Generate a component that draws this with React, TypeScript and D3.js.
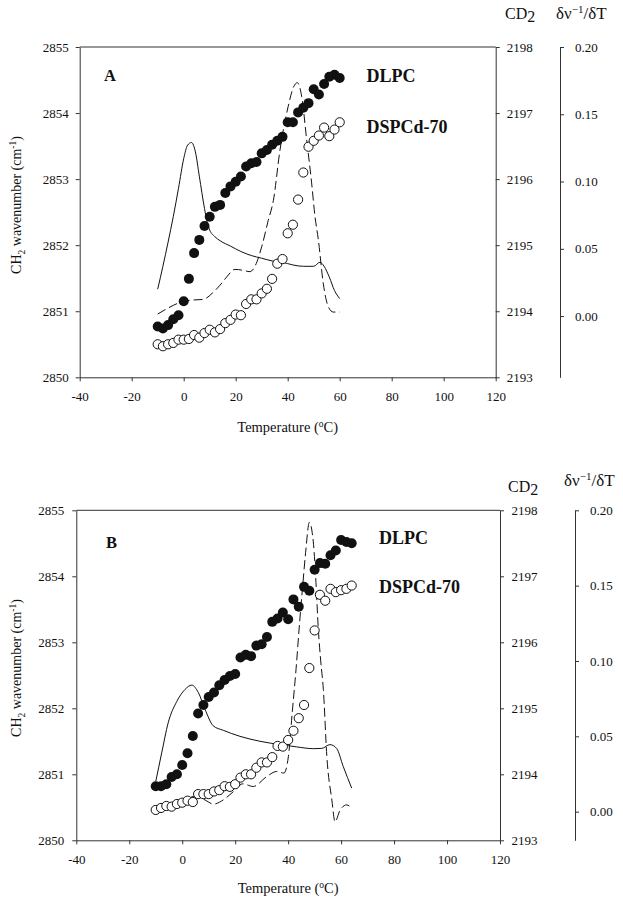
import React, { useEffect, useRef } from "react";
import * as d3 from "d3";

// ---------- data ----------
const xTicks = [-40, -20, 0, 20, 40, 60, 80, 100, 120];
const ch2Ticks = [2850, 2851, 2852, 2853, 2854, 2855];
const cd2Ticks = [2193, 2194, 2195, 2196, 2197, 2198];
const derivTicks = [0, 0.05, 0.1, 0.15, 0.2];

const tempA = [-10, -8, -6, -4, -2, 0, 2, 4, 6, 8, 10, 12, 14, 16, 18, 20, 22, 24, 26, 28, 30, 32, 34, 36, 38, 40, 42, 44, 46, 48, 50, 52, 54, 56, 58, 60];
const dlpcA = [2850.77, 2850.74, 2850.79, 2850.88, 2850.94, 2851.15, 2851.49, 2851.88, 2852.08, 2852.29, 2852.43, 2852.58, 2852.61, 2852.79, 2852.89, 2852.96, 2853.04, 2853.19, 2853.24, 2853.26, 2853.39, 2853.44, 2853.52, 2853.58, 2853.64, 2853.86, 2853.86, 2854.01, 2854.08, 2854.15, 2854.36, 2854.28, 2854.44, 2854.55, 2854.58, 2854.53];
const dspcA = [2193.5, 2193.47, 2193.5, 2193.52, 2193.57, 2193.57, 2193.58, 2193.64, 2193.6, 2193.67, 2193.72, 2193.68, 2193.73, 2193.82, 2193.87, 2193.95, 2193.94, 2194.11, 2194.18, 2194.18, 2194.27, 2194.34, 2194.49, 2194.72, 2194.79, 2195.18, 2195.31, 2195.69, 2196.1, 2196.49, 2196.58, 2196.66, 2196.78, 2196.65, 2196.75, 2196.86];

const tempB = [-10, -8, -6, -4, -2, 0, 2, 4, 6, 8, 10, 12, 14, 16, 18, 20, 22, 24, 26, 28, 30, 32, 34, 36, 38, 40, 42, 44, 46, 48, 50, 52, 54, 56, 58, 60, 62, 64];
const dlpcB = [2850.82, 2850.82, 2850.85, 2850.96, 2851.0, 2851.14, 2851.32, 2851.58, 2851.92, 2852.05, 2852.17, 2852.24, 2852.35, 2852.43, 2852.49, 2852.52, 2852.77, 2852.81, 2852.79, 2852.95, 2852.97, 2853.08, 2853.31, 2853.36, 2853.45, 2853.35, 2853.65, 2853.54, 2853.84, 2853.78, 2854.1, 2854.2, 2854.19, 2854.32, 2854.39, 2854.55, 2854.52, 2854.5];
const dspcB = [2193.46, 2193.49, 2193.52, 2193.51, 2193.55, 2193.57, 2193.6, 2193.58, 2193.7, 2193.7, 2193.7, 2193.74, 2193.76, 2193.82, 2193.81, 2193.85, 2193.95, 2194.0, 2194.0, 2194.1, 2194.18, 2194.18, 2194.26, 2194.43, 2194.42, 2194.52, 2194.66, 2194.85, 2195.05, 2195.61, 2196.18, 2196.72, 2196.63, 2196.81, 2196.76, 2196.79, 2196.81, 2196.86];

const dlpcDerivT_A = [-10, -8, -6, -4, -2, 0, 1.5, 3, 4.5, 6, 8, 9, 10, 12, 14, 18, 22, 26, 30, 34, 38, 42, 46, 50, 52.4, 54, 56, 58, 60];
const dlpcDerivV_A = [0.02, 0.037, 0.055, 0.074, 0.095, 0.117, 0.127, 0.129, 0.122, 0.104, 0.08, 0.07, 0.064, 0.059, 0.056, 0.052, 0.048, 0.045, 0.043, 0.041, 0.04, 0.038, 0.037, 0.037, 0.04, 0.037, 0.029, 0.019, 0.013];
const dspcDerivT_A = [-10, -6, -4, 0, 4, 7.5, 11, 14, 16.5, 19.7, 22.9, 25.5, 27.4, 30, 32.5, 34.5, 37, 40.2, 42.2, 43.7, 45.4, 47.3, 49.2, 50.5, 51.8, 53.7, 55.6, 57.5, 60];
const dspcDerivV_A = [0.0015, 0.006, 0.008, 0.011, 0.012, 0.0124, 0.017, 0.023, 0.029, 0.0347, 0.034, 0.033, 0.037, 0.0515, 0.071, 0.086, 0.123, 0.156, 0.17, 0.1735, 0.163, 0.131, 0.099, 0.074, 0.0565, 0.024, 0.007, 0.003, 0.003];

const dlpcDerivT_B = [-10, -7.75, -5.3, -2.1, 1, 3.6, 6.1, 8.6, 11.7, 15.5, 21.8, 29.4, 37, 43.2, 49.5, 52.7, 55.8, 58.3, 60.8, 64];
const dlpcDerivV_B = [0.02, 0.039, 0.059, 0.073, 0.081, 0.084, 0.079, 0.068, 0.057, 0.054, 0.05, 0.0467, 0.0445, 0.043, 0.0418, 0.042, 0.0445, 0.042, 0.03, 0.0156];
const dspcDerivT_B = [-10, -5.9, -0.8, 4.2, 8.6, 11.7, 15.5, 19.3, 22.9, 26.8, 31.9, 35.7, 38.4, 40.1, 41.5, 43, 44.3, 45.5, 46.6, 48, 49.5, 50.5, 51.4, 52.3, 53.3, 54.6, 56.5, 57.7, 59.6, 62.1, 64];
const dspcDerivV_B = [-0.001, 0.002, 0.0056, 0.01, 0.0078, 0.005, 0.0078, 0.0133, 0.0185, 0.0167, 0.0233, 0.0267, 0.0256, 0.0367, 0.065, 0.095, 0.125, 0.15, 0.172, 0.192, 0.179, 0.152, 0.121, 0.1, 0.081, 0.037, 0.0078, -0.0067, 0.001, 0.0045, 0.0022];

// ---------- layout ----------
const FONT = "'Liberation Serif', 'Times New Roman', serif";
const INK = "#111";
const AXIS = "#333";

type PanelCfg = {
  letter: string;
  x0: number; x1: number; yTop: number; yBot: number;
  derivX: number; derivMin: number;
  leftPad: number; rightPad: number; derivPad: number;
  temp: number[]; dlpc: number[]; dspc: number[];
  sT: number[]; sV: number[]; dT: number[]; dV: number[];
  letterPos: [number, number];
  dlpcPos: [number, number]; dspcPos: [number, number];
  cdPos: [number, number]; dvPos: [number, number];
  yTitleY: number; xTitleY: number;
};

const panels: PanelCfg[] = [
  {
    letter: "A", x0: 79.7, x1: 495.7, yTop: 47, yBot: 377.3,
    derivX: 560, derivMin: -0.0455, leftPad: 7, rightPad: 7, derivPad: 11,
    temp: tempA, dlpc: dlpcA, dspc: dspcA,
    sT: dlpcDerivT_A, sV: dlpcDerivV_A, dT: dspcDerivT_A, dV: dspcDerivV_A,
    letterPos: [104, 81], dlpcPos: [366.5, 81.5], dspcPos: [366.5, 133],
    cdPos: [505, 19], dvPos: [556, 19], yTitleY: 205, xTitleY: 432,
  },
  {
    letter: "B", x0: 76.3, x1: 500, yTop: 510.3, yBot: 840.3,
    derivX: 575, derivMin: -0.019, leftPad: 8, rightPad: 7.5, derivPad: 11,
    temp: tempB, dlpc: dlpcB, dspc: dspcB,
    sT: dlpcDerivT_B, sV: dlpcDerivV_B, dT: dspcDerivT_B, dV: dspcDerivV_B,
    letterPos: [106, 548], dlpcPos: [379, 544], dspcPos: [379, 592.5],
    cdPos: [508, 492], dvPos: [564, 486], yTitleY: 668, xTitleY: 893,
  },
];

type AxisProps = {
  kind: "left" | "right" | "bottom";
  scale: any;
  ticks: number[];
  fmt: (d: any) => string;
  tx: number; ty: number; pad: number;
};

function Axis({ kind, scale, ticks, fmt, tx, ty, pad }: AxisProps) {
  const ref = useRef<SVGGElement>(null);
  useEffect(() => {
    if (!ref.current) return;
    const g = d3.select(ref.current);
    const ax = kind === "left" ? d3.axisLeft(scale) : kind === "right" ? d3.axisRight(scale) : d3.axisBottom(scale);
    ax.tickValues(ticks).tickSizeInner(4).tickSizeOuter(0).tickPadding(pad).tickFormat(fmt as any);
    g.call(ax as any);
    g.attr("font-family", FONT).attr("font-size", 13);
    g.select(".domain").attr("stroke", AXIS).attr("stroke-width", 1);
    g.selectAll(".tick line").attr("stroke", AXIS);
    g.selectAll(".tick text").attr("fill", INK);
  }, [kind, scale, ticks, fmt, pad]);
  return <g ref={ref} transform={`translate(${tx},${ty})`} />;
}

function Panel({ p }: { p: PanelCfg }) {
  const x = d3.scaleLinear().domain([-40, 120]).range([p.x0, p.x1]);
  const yCH = d3.scaleLinear().domain([2850, 2855]).range([p.yBot, p.yTop]);
  const yCD = d3.scaleLinear().domain([2193, 2198]).range([p.yBot, p.yTop]);
  const yDv = d3.scaleLinear().domain([p.derivMin, 0.2]).range([p.yBot, p.yTop]);

  const line = d3
    .line<[number, number]>()
    .x((d) => x(d[0]))
    .y((d) => yDv(d[1]))
    .curve(d3.curveMonotoneX);

  const solid = p.sT.map((t, i) => [t, p.sV[i]] as [number, number]);
  const dashed = p.dT.map((t, i) => [t, p.dV[i]] as [number, number]);
  const xMid = (p.x0 + p.x1) / 2;

  return (
    <g>
      <line x1={p.x0} x2={p.x1} y1={p.yTop} y2={p.yTop} stroke={AXIS} strokeWidth={1} />
      <Axis kind="left" scale={yCH} ticks={ch2Ticks} fmt={(d) => String(d)} tx={p.x0} ty={0} pad={p.leftPad} />
      <Axis kind="right" scale={yCD} ticks={cd2Ticks} fmt={(d) => String(d)} tx={p.x1} ty={0} pad={p.rightPad} />
      <Axis kind="right" scale={yDv} ticks={derivTicks} fmt={(d) => d3.format(".2f")(d)} tx={p.derivX} ty={0} pad={p.derivPad} />
      <Axis kind="bottom" scale={x} ticks={xTicks} fmt={(d) => String(d)} tx={0} ty={p.yBot} pad={10.5} />

      <path d={line(solid) || ""} fill="none" stroke={INK} strokeWidth={1} />
      <path d={line(dashed) || ""} fill="none" stroke={INK} strokeWidth={1} strokeDasharray="9,4" />

      {p.temp.map((t, i) => (
        <circle key={"o" + i} cx={x(t)} cy={yCD(p.dspc[i])} r={4.6} fill="#fff" stroke={INK} strokeWidth={1} />
      ))}
      {p.temp.map((t, i) => (
        <circle key={"f" + i} cx={x(t)} cy={yCH(p.dlpc[i])} r={5} fill={INK} />
      ))}

      <g fontFamily={FONT} fill={INK}>
        <text x={p.letterPos[0]} y={p.letterPos[1]} fontSize={16.5} fontWeight="bold">{p.letter}</text>
        <text x={p.dlpcPos[0]} y={p.dlpcPos[1]} fontSize={18} fontWeight="bold">DLPC</text>
        <text x={p.dspcPos[0]} y={p.dspcPos[1]} fontSize={18} fontWeight="bold">DSPCd-70</text>
        <text x={p.cdPos[0]} y={p.cdPos[1]} fontSize={16}>
          CD<tspan dy={3}>2</tspan>
        </text>
        <text x={p.dvPos[0]} y={p.dvPos[1]} fontSize={17}>
          δν<tspan dy={-6} fontSize={11}>−1</tspan>
          <tspan dy={6}>/δT</tspan>
        </text>
        <text x={xMid} y={p.xTitleY} fontSize={14.5} textAnchor="middle">
          Temperature (<tspan dy={-5} fontSize={9.5}>o</tspan>
          <tspan dy={5}>C)</tspan>
        </text>
        <text transform={`translate(21,${p.yTitleY}) rotate(-90)`} fontSize={14} textAnchor="middle">
          CH<tspan dy={4} fontSize={9.5}>2</tspan>
          <tspan dy={-4}> wavenumber (cm</tspan>
          <tspan dy={-5} fontSize={9.5}>-1</tspan>
          <tspan dy={5}>)</tspan>
        </text>
      </g>
    </g>
  );
}

export default function App() {
  return (
    <svg
      width={623}
      height={900}
      viewBox="0 0 623 900"
      style={{ position: "absolute", left: 0, top: 0, background: "#fff" }}
    >
      <rect x={0} y={0} width={623} height={900} fill="#fff" />
      {panels.map((p) => (
        <Panel key={p.letter} p={p} />
      ))}
    </svg>
  );
}
